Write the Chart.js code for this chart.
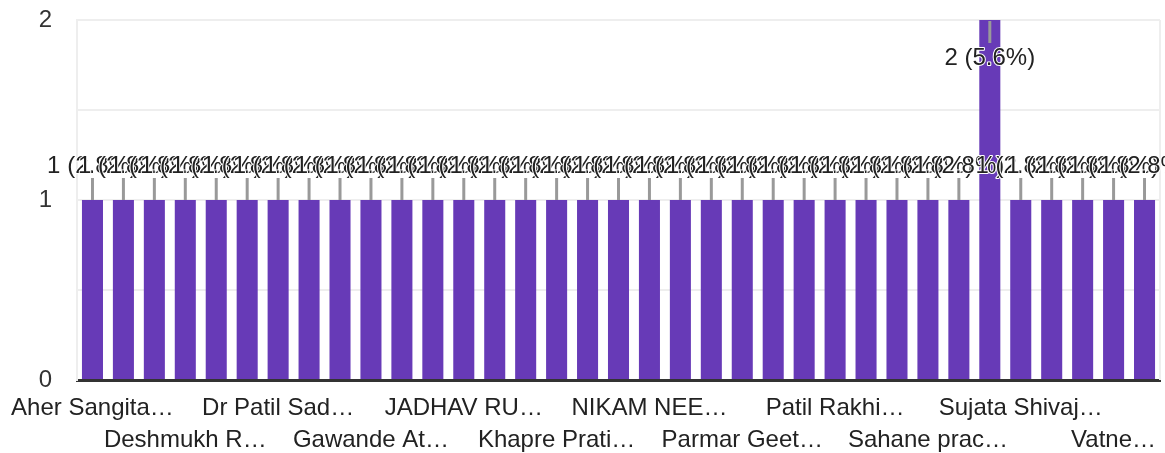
<!DOCTYPE html>
<html>
<head>
<meta charset="utf-8">
<script src="https://cdn.jsdelivr.net/npm/chart.js@4.4.1/dist/chart.umd.min.js"></script>
<style>
  html, body { margin: 0; padding: 0; background: #fff; }
  #wrap { width: 1165px; height: 453px; }
</style>
</head>
<body>
<div id="wrap"><canvas id="chart"></canvas></div>
<script>
// Respondent names (only every third one is readable in the picture)
var names = [
	"Aher Sangita…", "Respondent 2", "Respondent 3",
	"Deshmukh R…", "Respondent 5", "Respondent 6",
	"Dr Patil Sad…", "Respondent 8", "Respondent 9",
	"Gawande At…", "Respondent 11", "Respondent 12",
	"JADHAV RU…", "Respondent 14", "Respondent 15",
	"Khapre Prati…", "Respondent 17", "Respondent 18",
	"NIKAM NEE…", "Respondent 20", "Respondent 21",
	"Parmar Geet…", "Respondent 23", "Respondent 24",
	"Patil Rakhi…", "Respondent 26", "Respondent 27",
	"Sahane prac…", "Respondent 29", "Respondent 30",
	"Sujata Shivaj…", "Respondent 32", "Respondent 33",
	"Vatne…", "Respondent 35"
];

// Response counts per name
var counts = [
	1, 1, 1, 1, 1, 1, 1, 1, 1, 1,
	1, 1, 1, 1, 1, 1, 1, 1, 1, 1,
	1, 1, 1, 1, 1, 1, 1, 1, 1, 2,
	1, 1, 1, 1, 1
];

var yTicks = [0, 1, 2];

var barColor = "#673ab7";
var fontFamily = 'Arial, "Liberation Sans", sans-serif';
var total = counts.reduce(function (a, b) { return a + b; }, 0);

// draws "n (p%)" labels with leader lines, like the Google Forms chart
var pctLabels = {
	id: 'pctLabels',
	afterDatasetsDraw: function (chart) {
		var ctx = chart.ctx;
		var meta = chart.getDatasetMeta(0);
		var area = chart.chartArea;
		ctx.save();
		// right border of the plot box
		ctx.strokeStyle = '#eeeeee';
		ctx.lineWidth = 2;
		ctx.beginPath();
		ctx.moveTo(area.right, area.top);
		ctx.lineTo(area.right, area.bottom);
		ctx.stroke();

		var spots = meta.data.map(function (bar, i) {
			var v = counts[i];
			var s = { x: bar.x, text: v + ' (' + (v / total * 100).toFixed(1) + '%)' };
			if (v >= 2) {
				s.ty = bar.y + 38; s.l0 = bar.y + 1; s.l1 = bar.y + 23;
			} else {
				s.ty = bar.y - 34; s.l0 = bar.y - 22; s.l1 = bar.y;
			}
			return s;
		});

		ctx.strokeStyle = '#999999';
		ctx.lineWidth = 3;
		spots.forEach(function (s) {
			ctx.beginPath();
			ctx.moveTo(s.x, s.l0);
			ctx.lineTo(s.x, s.l1);
			ctx.stroke();
		});

		ctx.font = '24px ' + fontFamily;
		ctx.textAlign = 'center';
		ctx.textBaseline = 'middle';
		ctx.lineJoin = 'round';
		spots.forEach(function (s) {
			ctx.strokeStyle = '#ffffff';
			ctx.lineWidth = 2;
			ctx.strokeText(s.text, s.x, s.ty);
			ctx.fillStyle = '#222222';
			ctx.fillText(s.text, s.x, s.ty);
		});
		ctx.restore();
	}
};

var myChart = new Chart(document.getElementById('chart'), {
	type: 'bar',
	data: {
		labels: names,
		datasets: [{
			data: counts,
			backgroundColor: barColor,
			borderWidth: 0,
			categoryPercentage: 1.0,
			barPercentage: 0.68
		}]
	},
	options: {
		responsive: true,
		maintainAspectRatio: false,
		animation: false,
		layout: { padding: { top: 20, right: 5, left: 0, bottom: 0 } },
		plugins: {
			legend: { display: false },
			tooltip: { enabled: false }
		},
		scales: {
			x: {
				// invisible grid, only used so tick marks give the label gap
				grid: {
					display: true,
					color: 'rgba(0,0,0,0)',
					drawTicks: true,
					tickLength: 12,
					tickColor: 'rgba(0,0,0,0)'
				},
				border: { display: true, color: '#333333', width: 3 },
				ticks: {
					autoSkip: false,
					maxRotation: 0,
					minRotation: 0,
					padding: 0,
					color: '#222222',
					font: { family: fontFamily, size: 24, lineHeight: 1.33 },
					callback: function (value, index) {
						if (index % 3 !== 0) return '';
						var label = names[index];
						return (index / 3) % 2 === 0 ? label : ['', label];
					}
				},
				afterFit: function (scale) { scale.height = 73; }
			},
			y: {
				min: 0,
				max: 2,
				grid: {
					color: '#eeeeee',
					lineWidth: 2,
					drawTicks: true,
					tickLength: 25,
					tickColor: 'rgba(0,0,0,0)'
				},
				border: { display: true, color: '#eeeeee', width: 2 },
				ticks: {
					stepSize: 0.5,
					padding: 0,
					color: '#333333',
					font: { family: fontFamily, size: 24, lineHeight: 1 },
					callback: function (value) {
						return yTicks.indexOf(value) >= 0 ? value : '';
					}
				},
				afterFit: function (scale) { scale.width = 77; }
			}
		}
	},
	plugins: [pctLabels]
});
</script>
</body>
</html>
